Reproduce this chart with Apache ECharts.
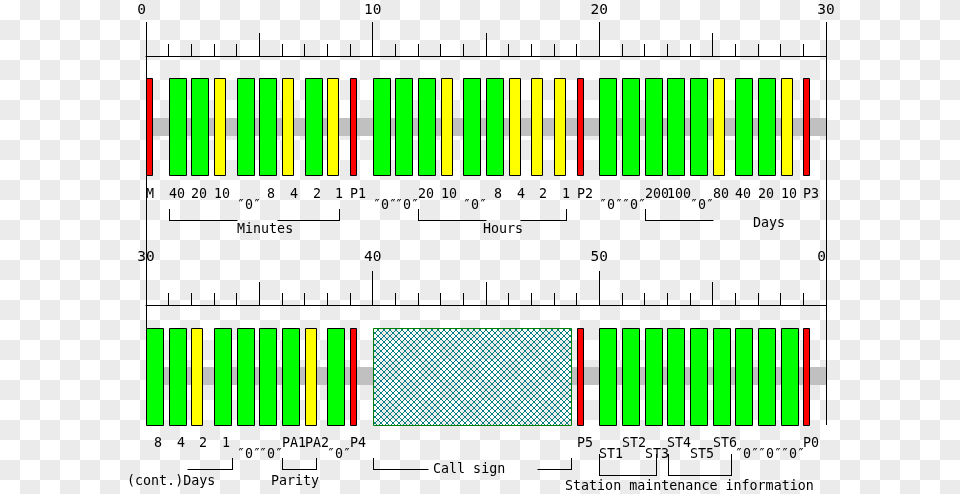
<!DOCTYPE html>
<html><head><meta charset="utf-8">
<script src="https://cdn.jsdelivr.net/npm/echarts@6/dist/echarts.min.js"></script>
<style>
html,body{margin:0;padding:0;}
body{background:repeating-conic-gradient(#ebebeb 0 25%, #ffffff 0 50%) 0 0/40px 40px;}
#c{width:960px;height:494px;}
</style></head><body><div id="c"></div>
<script>
// ---- data (one JJY time-code minute) ----
// codes: 0 = bit "0", 1 = bit "1", 'P' = marker, 'C' = call sign
const QZ = '\u20330\u2033';
const row1Bits   = ['P',0,0,1,0,0,1,0,1,'P', 0,0,0,1,0,0,1,1,1,'P', 0,0,0,0,0,1,0,0,1,'P'];
const row2Bits   = [0,0,1,0,0,0,0,1,0,'P', 'C','C','C','C','C','C','C','C','C','P', 0,0,0,0,0,0,0,0,0,'P'];
const row1Labels = ['M','40','20','10',QZ,' 8',' 4',' 2',' 1','P1', QZ,QZ,'20','10',QZ,' 8',' 4',' 2',' 1','P2', QZ,QZ,'200','100',QZ,'80','40','20','10','P3'];
const row2Labels = [' 8',' 4',' 2',' 1',QZ,QZ,'PA1','PA2',QZ,'P4', '','','','','','','','','','P5', 'ST1','ST2','ST3','ST4','ST5','ST6',QZ,QZ,QZ,'P0'];
const row1Ticks  = ['0','10','20','30'];
const row2Ticks  = ['30','40','50','0'];
const groupNames = ['Minutes','Hours','Days','(cont.)Days','Parity','Call sign','Station maintenance information'];

// ---- layout / style ----
const PX = 680 / 30;
const W = {0: 0.75, 1: 0.5, P: 0.265, C: 0.75};
const FILL = {0: '#00ff00', 1: '#ffff00', P: '#ff0000'};
const FONT = '13.33px "DejaVu Sans Mono"';
const rows = [
  {bits: row1Bits, labels: row1Labels, ticks: row1Ticks, start: 0, top: 56, h: 184, barTop: 22, margin: 46},
  {bits: row2Bits, labels: row2Labels, ticks: row2Ticks, start: 30, top: 305, h: 189, barTop: 23, margin: 48}
];
const BAR_H = 97, BAND_TOP = 62, BAND_H = 18;
// brackets: seconds, gap around text, end ticks, level
const brackets = [
  {row: 0, from: 1, to: 8.5, gap: [4.01, 5.78], ends: [1, 1], lv: 'n'},
  {row: 0, from: 12, to: 18.55, gap: [15.0, 16.5], ends: [1, 1], lv: 'n'},
  {row: 0, from: 22, to: 25, gap: null, ends: [1, 0], lv: 'n'},
  {row: 1, from: 31.8, to: 33.8, gap: null, ends: [0, 1], lv: 'n'},
  {row: 1, from: 36, to: 37.5, gap: null, ends: [1, 1], lv: 'n'},
  {row: 1, from: 40, to: 48.77, gap: [42.45, 47.23], ends: [1, 1], lv: 'n'},
  {row: 1, from: 50, to: 52.5, gap: null, ends: [1, 1], lv: 's'},
  {row: 1, from: 53.05, to: 55.8, gap: null, ends: [1, 1], lv: 's'}
];
const LV = {n: {line: 164, tick: 153}, s: {line: 170, tick: 149}};
const notes = [
  {row: 0, at: 4.01, dy: 174}, {row: 0, at: 14.88, dy: 174}, {row: 0, at: 26.79, dy: 168},
  {row: 1, at: 29.15, dy: 176.5}, {row: 1, at: 35.5, dy: 176.5}, {row: 1, at: 42.67, dy: 165},
  {row: 1, at: 48.48, dy: 182}
];

// hatch pattern
const hatch = document.createElement('canvas');
hatch.width = 6; hatch.height = 6;
(function () {
  const g = hatch.getContext('2d');
  g.fillStyle = '#008080';
  for (let i = 0; i < 6; i++) { g.fillRect(i, i, 1, 1); g.fillRect(5 - i, i, 1, 1); }
})();

const snap = v => Math.round(v) + 0.5;

const grids = [], xAxes = [], yAxes = [], series = [];
rows.forEach((row, r) => {
  grids.push({left: 146, width: 680, top: row.top, height: row.h, outerBoundsMode: 'none', containLabel: false});
  const min = row.start, max = row.start + 30;
  xAxes.push({
    gridIndex: r, type: 'value', position: 'top', min, max, interval: 10,
    axisLine: {show: true, lineStyle: {color: '#000', width: 1}},
    axisTick: {show: true, length: 34, lineStyle: {color: '#000', width: 1}},
    minorTick: {show: true, splitNumber: 10, length: 12, lineStyle: {color: '#000', width: 1}},
    splitLine: {show: false}, minorSplitLine: {show: false},
    axisLabel: {
      show: true, margin: row.margin, color: '#000', fontFamily: 'DejaVu Sans Mono', fontSize: 14.5,
      verticalAlign: 'middle', showMinLabel: true, showMaxLabel: true,
      alignMinLabel: r === 0 ? 'right' : 'center', alignMaxLabel: r === 1 ? 'right' : 'center',
      formatter: v => row.ticks[Math.round((v - row.start) / 10)]
    }
  });
  xAxes.push({
    gridIndex: r, type: 'value', position: 'top', min, max, interval: 5,
    axisLine: {show: false}, axisLabel: {show: false}, splitLine: {show: false},
    axisTick: {show: true, length: 23, lineStyle: {color: '#000', width: 1}}
  });
  yAxes.push({gridIndex: r, type: 'value', min: 0, max: row.h, inverse: true, show: false});
  const xi = r * 2;

  // call sign block
  const cIdx = row.bits.map((b, i) => b === 'C' ? i : -1).filter(i => i >= 0);
  const cFrom = cIdx.length ? row.start + cIdx[0] : null;
  const cTo = cIdx.length ? row.start + cIdx[cIdx.length - 1] + W.C : null;

  // grey band segments
  const segs = cFrom === null ? [[min, max]] : [[min, cFrom], [cTo, max]];
  series.push({
    type: 'custom', xAxisIndex: xi, yAxisIndex: r, silent: true, z: 1,
    data: segs.map(s => [s[0], s[1]]),
    renderItem: (p, api) => {
      const a = api.coord([api.value(0), BAND_TOP]), b = api.coord([api.value(1), BAND_TOP + BAND_H]);
      return {type: 'rect', shape: {x: Math.round(a[0]), y: Math.round(a[1]), width: Math.round(b[0]) - Math.round(a[0]), height: BAND_H},
        style: {fill: '#c0c0c0'}};
    }
  });

  // bars
  series.push({
    type: 'custom', xAxisIndex: xi, yAxisIndex: r, silent: true, z: 2,
    data: row.bits.map((b, i) => [row.start + i, i]).filter(d => row.bits[d[1]] !== 'C'),
    renderItem: (p, api) => {
      const code = row.bits[api.value(1)];
      const a = api.coord([api.value(0), row.barTop]);
      return {type: 'rect', shape: {x: snap(a[0]), y: snap(a[1]), width: Math.round(W[code] * PX), height: BAR_H},
        style: {fill: FILL[code], stroke: '#000', lineWidth: 1}};
    }
  });

  // call sign hatched block
  if (cFrom !== null) {
    series.push({
      type: 'custom', xAxisIndex: xi, yAxisIndex: r, silent: true, z: 2,
      data: [[cFrom, cTo]],
      renderItem: (p, api) => {
        const a = api.coord([api.value(0), row.barTop]), b = api.coord([api.value(1), row.barTop]);
        return {type: 'rect', shape: {x: snap(a[0]), y: snap(a[1]), width: Math.round(b[0]) - Math.round(a[0]), height: BAR_H},
          style: {fill: {image: hatch, repeat: 'repeat'}, stroke: '#008000', lineWidth: 1}};
      }
    });
  }

  // bit labels
  series.push({
    type: 'custom', xAxisIndex: xi, yAxisIndex: r, silent: true, z: 3,
    data: row.labels.map((t, i) => [row.start + i, i]).filter(d => row.labels[d[1]] !== ''),
    renderItem: (p, api) => {
      const t = row.labels[api.value(1)];
      const low = t === QZ || /^ST[135]$/.test(t);
      const a = api.coord([api.value(0), low ? 150 : 138.5]);
      return {type: 'text', x: Math.round(a[0]), y: a[1],
        style: {text: t, font: FONT, fill: '#000', align: 'left', verticalAlign: 'middle'}};
    }
  });

  // brackets
  const bl = brackets.filter(b => b.row === r);
  series.push({
    type: 'custom', xAxisIndex: xi, yAxisIndex: r, silent: true, z: 3,
    data: bl.map((b, i) => [b.from, b.to, i]),
    renderItem: (p, api) => {
      const b = bl[api.value(2)], lv = LV[b.lv];
      const X = s => snap(api.coord([s, 0])[0]);
      const yl = snap(api.coord([0, lv.line])[1]), yt = Math.round(api.coord([0, lv.tick])[1]);
      const st = {stroke: '#000', lineWidth: 1};
      const kids = [];
      const x0 = X(b.from), x1 = X(b.to);
      if (b.gap) {
        kids.push({type: 'line', shape: {x1: x0, y1: yl, x2: X(b.gap[0]), y2: yl}, style: st});
        kids.push({type: 'line', shape: {x1: X(b.gap[1]), y1: yl, x2: x1, y2: yl}, style: st});
      } else {
        kids.push({type: 'line', shape: {x1: x0, y1: yl, x2: x1, y2: yl}, style: st});
      }
      if (b.ends[0]) kids.push({type: 'line', shape: {x1: x0, y1: yt, x2: x0, y2: yl + 0.5}, style: st});
      if (b.ends[1]) kids.push({type: 'line', shape: {x1: x1, y1: yt, x2: x1, y2: yl + 0.5}, style: st});
      return {type: 'group', children: kids};
    }
  });

  // group names
  const nl = notes.map((n, i) => Object.assign({text: groupNames[i]}, n)).filter(n => n.row === r);
  series.push({
    type: 'custom', xAxisIndex: xi, yAxisIndex: r, silent: true, z: 3,
    data: nl.map((n, i) => [n.at, i]),
    renderItem: (p, api) => {
      const n = nl[api.value(1)];
      const a = api.coord([api.value(0), n.dy]);
      return {type: 'text', x: Math.round(a[0]), y: a[1],
        style: {text: n.text, font: FONT, fill: '#000', align: 'left', verticalAlign: 'middle'}};
    }
  });
});

// frame lines spanning both rows (x = 0 s and 30 s of the first row)
series.push({
  type: 'custom', xAxisIndex: 0, yAxisIndex: 0, silent: true, z: 4,
  data: [[0], [30]],
  renderItem: (p, api) => {
    const a = api.coord([api.value(0), -34]), b = api.coord([api.value(0), 369]);
    const x = snap(a[0]);
    return {type: 'line', shape: {x1: x, y1: Math.round(a[1]), x2: x, y2: Math.round(b[1])}, style: {stroke: '#000', lineWidth: 1}};
  }
});

const chart = echarts.init(document.getElementById('c'), null, {renderer: 'canvas'});
chart.setOption({
  animation: false,
  backgroundColor: 'transparent',
  grid: grids, xAxis: xAxes, yAxis: yAxes, series
});
</script></body></html>
